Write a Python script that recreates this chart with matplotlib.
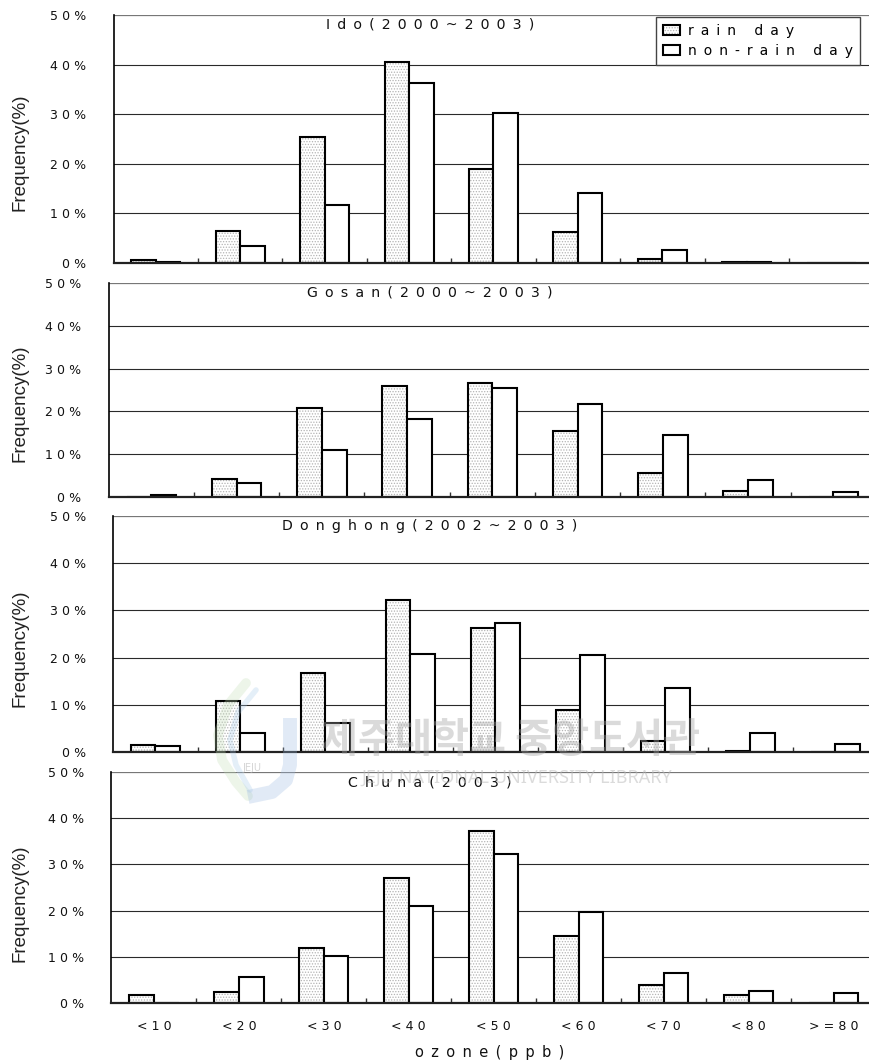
import matplotlib
matplotlib.use("Agg")
import matplotlib.pyplot as plt
from matplotlib.patches import Patch
from matplotlib.lines import Line2D
import numpy as np

# ---- data: ozone frequency distribution (%) by concentration class ----
categories = ['<10', '<20', '<30', '<40', '<50', '<60', '<70', '<80', '>=80']

ido_rain = [0.7, 6.5, 25.5, 40.6, 19.0, 6.2, 0.9, 0.2, 0.0]
ido_nonrain = [0.2, 3.5, 11.7, 36.3, 30.2, 14.1, 2.7, 0.2, 0.0]

gosan_rain = [0.0, 4.2, 20.8, 25.9, 26.6, 15.4, 5.6, 1.4, 0.0]
gosan_nonrain = [0.5, 3.3, 10.9, 18.2, 25.5, 21.8, 14.6, 3.9, 1.1]

donghong_rain = [1.5, 10.9, 16.8, 32.3, 26.3, 9.0, 2.3, 0.3, 0.0]
donghong_nonrain = [1.3, 4.1, 6.1, 20.8, 27.3, 20.6, 13.5, 4.1, 1.8]

chuna_rain = [1.7, 2.4, 12.0, 27.1, 37.2, 14.4, 4.0, 1.7, 0.0]
chuna_nonrain = [0.0, 5.6, 10.2, 21.1, 32.3, 19.8, 6.5, 2.6, 2.1]

station_titles = ['Ido(2000~2003)', 'Gosan(2000~2003)',
                  'Donghong(2002~2003)', 'Chuna(2003)']
series_labels = ['rain day', 'non-rain day']
yticks = [0, 10, 20, 30, 40, 50]
ylabel = 'Frequency(%)'
xlabel = 'ozone(ppb)'

panels = [
    (ido_rain, ido_nonrain),
    (gosan_rain, gosan_nonrain),
    (donghong_rain, donghong_nonrain),
    (chuna_rain, chuna_nonrain),
]

# ---- layout (pixels on an 870 x 1062 canvas) ----
W, H = 870, 1062
DPI = 100
# left, right, top, bottom of each plotting area
rects = [
    (113.6, 873.4, 15, 263),
    (108.7, 876.0, 283, 497),
    (113.0, 878.0, 516, 752),
    (111.5, 876.0, 772, 1003),
]
ylabel_y = [152, 403, 648, 903]
title_y = [25, 293, 526, 782]

EN = '\u2002'      # en space
THIRD = '\u2004'   # three-per-em space


def spaced(s, gap=EN):
    """Wide letter spacing, as in the original typesetting."""
    return gap.join(s)


def fx(px):
    return px / W


def fy(py):
    return 1 - py / H


plt.rcParams['font.family'] = ['DejaVu Sans']
plt.rcParams['hatch.linewidth'] = 0.6

fig = plt.figure(figsize=(W / DPI, H / DPI), dpi=DPI)
fig.patch.set_facecolor('white')

x = np.arange(len(categories))
bw = 0.29
dot_hatch = '......'
dot_color = '#b4b4b4'

axes = []
for i, ((rain, nonrain), (l, r, t, b)) in enumerate(zip(panels, rects)):
    ax = fig.add_axes([l / W, 1 - b / H, (r - l) / W, (b - t) / H])
    axes.append(ax)
    ax.set_xlim(-0.5, len(categories) - 0.5)
    ax.set_ylim(0, 50)

    # horizontal grid
    for v in yticks[1:]:
        ax.axhline(v, color='#777777' if v == 50 else '#2a2a2a',
                   lw=0.9 if v == 50 else 0.8, zorder=1)

    # rain day: stippled fill then outline
    ax.bar(x - bw / 2, rain, width=bw, facecolor='white', edgecolor=dot_color,
           linewidth=0, hatch=dot_hatch, zorder=2)
    ax.bar(x - bw / 2, rain, width=bw, fill=False, edgecolor='black',
           linewidth=1.5, zorder=3)
    # non-rain day: plain white
    ax.bar(x + bw / 2, nonrain, width=bw, facecolor='white', edgecolor='black',
           linewidth=1.5, zorder=3)

    for side in ('top', 'right'):
        ax.spines[side].set_visible(False)
    ax.spines['left'].set_color('black')
    ax.spines['left'].set_linewidth(1.2)
    ax.spines['bottom'].set_color('#222222')
    ax.spines['bottom'].set_linewidth(1.6)
    ax.spines['bottom'].set_zorder(4)

    ax.set_yticks(yticks)
    ax.set_yticklabels([spaced(f'{v}%', THIRD) for v in yticks])
    ax.tick_params(axis='y', length=0, pad=19.5, labelsize=9, colors='#111111')

    # category boundaries as short inward ticks
    ax.set_xticks(x + 0.5, minor=True)
    ax.tick_params(axis='x', which='minor', direction='in', length=3.6,
                   width=1.0, color='#333333')
    ax.set_xticks(x)
    if i == len(panels) - 1:
        ax.set_xticklabels([spaced(c, THIRD) for c in categories])
        ax.tick_params(axis='x', which='major', length=0, pad=12,
                       labelsize=9, colors='#111111')
    else:
        ax.set_xticklabels([])
        ax.tick_params(axis='x', which='major', length=0)

    fig.text(fx(430), fy(title_y[i]), spaced(station_titles[i]),
             ha='center', va='center', fontsize=10.2, color='#111111')
    fig.text(fx(20), fy(ylabel_y[i]), ylabel, rotation=90,
             ha='center', va='center', fontsize=13.5,
             family='Liberation Sans', color='#222222')

# legend in the first panel
rain_handle = (Patch(facecolor='white', edgecolor=dot_color, linewidth=0,
                     hatch=dot_hatch),
               Patch(fill=False, edgecolor='black', linewidth=1.5))
nonrain_handle = Patch(facecolor='white', edgecolor='black', linewidth=1.5)
leg = axes[0].legend([rain_handle, nonrain_handle],
                     [spaced(s) for s in series_labels],
                     loc='upper right', bbox_to_anchor=(fx(860), fy(17)),
                     bbox_transform=fig.transFigure, borderaxespad=0,
                     fontsize=10, frameon=True, fancybox=False,
                     framealpha=1, edgecolor='#444444',
                     handlelength=1.25, handleheight=0.72,
                     handletextpad=0.55, borderpad=0.5, labelspacing=0.42)
leg.get_frame().set_linewidth(1.0)
leg.set_zorder(5)

fig.text(fx(490), fy(1052), spaced(xlabel), ha='center', va='center',
         fontsize=10.5, color='#111111')

# library watermark: emblem strokes and lettering
fig.add_artist(Line2D([fx(246), fx(228), fx(218), fx(222), fx(236), fx(248)],
                      [fy(683), fy(705), fy(735), fy(760), fy(782), fy(796)],
                      lw=7, color='#c4dfb8', alpha=0.3, solid_capstyle='round',
                      zorder=9))
fig.add_artist(Line2D([fx(256), fx(238), fx(230), fx(236), fx(250)],
                      [fy(690), fy(712), fy(740), fy(765), fy(790)],
                      lw=4, color='#a8cbea', alpha=0.3, solid_capstyle='round',
                      zorder=9))
fig.add_artist(Line2D([fx(290), fx(290), fx(286), fx(272), fx(248)],
                      [fy(718), fy(765), fy(780), fy(792), fy(797)],
                      lw=10, color='#9dbbe2', alpha=0.3, solid_capstyle='butt',
                      zorder=9))
fig.text(fx(252), fy(768), 'JEJU', ha='center', va='center', fontsize=7,
         color='#b8b8b8', alpha=0.6, zorder=10)
fig.text(fx(511), fy(740), '제주대학교 중앙도서관', ha='center', va='center',
         fontsize=29, family=['Noto Sans CJK KR'], fontweight='bold',
         color='#a4a4a4', alpha=0.4, zorder=10)
fig.text(fx(517), fy(778), 'JEJU NATIONAL UNIVERSITY LIBRARY',
         ha='center', va='center', fontsize=13, family='Noto Sans',
         color='#b8b8b8', alpha=0.5, zorder=10)

fig.savefig('out.png', dpi=DPI, facecolor='white')
